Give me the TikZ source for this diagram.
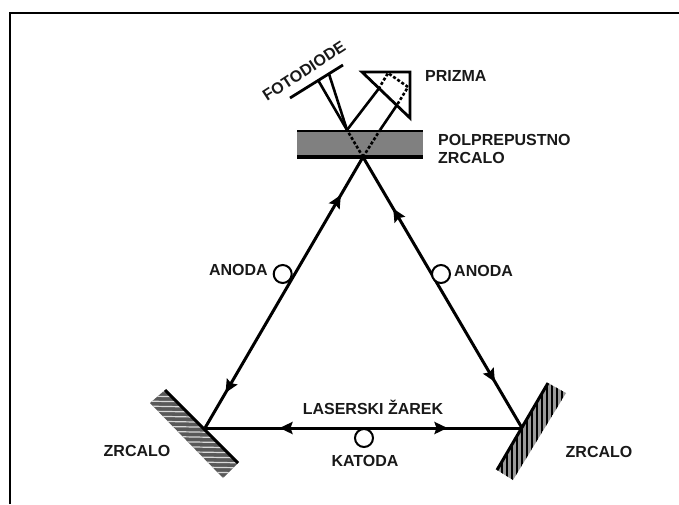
\documentclass[tikz,border=0pt]{standalone}
\usepackage{fontspec}
\setmainfont{Liberation Sans}
\usetikzlibrary{arrows.meta,decorations.markings}
\tikzset{
  >={Stealth[length=13pt,width=12pt,inset=2pt]},
  beam/.style={line width=3pt,line cap=butt},
  thin beam/.style={line width=2.6pt},
  dotbeam/.style={line width=2.6pt,dash pattern=on 3pt off 2pt},
  lab/.style={font=\bfseries\fontsize{16}{18}\selectfont,inner sep=0pt,text=black!90},
  ring/.style={circle,draw,line width=2pt,fill=white,minimum size=18pt,inner sep=0pt},
  mirrorface/.style={line width=3pt},
}
\begin{document}
\begin{tikzpicture}[x=1pt,y=-1pt]
\useasboundingbox (0,0) rectangle (679,504);
% frame
\coordinate (fa) at (10,504); \coordinate (fb) at (10,13); \coordinate (fc) at (679,13);
\draw[line width=2.8pt] (fa) -- (fb) -- (fc);
% key points
\coordinate (T) at (363,157);
\coordinate (L) at (205,428);
\coordinate (R) at (522,428);
\coordinate (SL) at (347,130);
\coordinate (SR) at (380,130);
% beam splitter
\fill[black!50] (297,131) rectangle (423,157);
\draw[line width=2.6pt] (297,131) -- (423,131);
\draw[line width=4pt] (297,157) -- (423,157);
% left mirror
\begin{scope}
\clip (165,390) -- (238,463) -- (223,478) -- (150,403) -- cycle;
\fill[black!65] (140,380) rectangle (250,490);
\foreach \y in {392,397,...,482} \draw[white!85!black,line width=1.2pt] (140,\y-1) -- (250,\y+1);
\end{scope}
\coordinate (ml1) at (165,390); \coordinate (ml2) at (238,463);
\draw[mirrorface] (ml1) -- (ml2);
% right mirror
\begin{scope}
\clip (548,383) -- (566,393) -- (513,480) -- (497,470) -- cycle;
\fill[black!40] (490,375) rectangle (570,485);
\foreach \x in {497,502,...,567} \draw[black,line width=2.6pt] (\x,375) -- (\x,485);
\end{scope}
\coordinate (mr1) at (548,383); \coordinate (mr2) at (497,470);
\draw[mirrorface] (mr1) -- (mr2);
% main beams
\draw[beam,postaction={decorate},decoration={markings,
   mark=at position 0.86 with {\arrow{>}},
   mark=at position 0.13 with {\arrowreversed{>}}}] (L) -- (T);
\draw[beam,postaction={decorate},decoration={markings,
   mark=at position 0.81 with {\arrow{>}},
   mark=at position 0.17 with {\arrowreversed{>}}}] (R) -- (T);
\draw[beam,postaction={decorate},decoration={markings,
   mark=at position 0.765 with {\arrow{>}},
   mark=at position 0.235 with {\arrowreversed{>}}}] (L) -- (R);
% inside the splitter
\draw[dotbeam] (T) -- (SL);
\draw[dotbeam] (T) -- (SR);
% photodiode
\coordinate (da) at (290,98); \coordinate (db) at (343,65);
\coordinate (d1) at (318,80); \coordinate (d2) at (329,74);
\draw[line width=2.8pt] (da) -- (db);
\draw[thin beam] (SL) -- (d1);
\draw[thin beam] (SL) -- (d2);
% prism
\coordinate (p1) at (362,72); \coordinate (p2) at (410,72); \coordinate (p3) at (410,118);
\draw[line width=2.8pt,line join=miter] (p1) -- (p2) -- (p3) -- cycle;
\coordinate (h1) at (378.5,89); \coordinate (h2) at (397,105);
\coordinate (q1) at (388,73); \coordinate (q2) at (408,87);
\draw[thin beam] (SL) -- (h1);
\draw[thin beam] (SR) -- (h2);
\draw[dotbeam] (h1) -- (q1) -- (q2) -- (h2);
% rings
\node[ring] (a1) at (282.7,274) {};
\node[ring] (a2) at (441,274) {};
\node[ring] (k) at (364,438) {};
% labels
\node[lab,rotate=33] (fd) at (304,71) {FOTODIODE};
\node[lab,anchor=west] (pr) at (425,76) {PRIZMA};
\node[lab,anchor=west] (pp) at (438,140) {POLPREPUSTNO};
\node[lab,anchor=west] (pz) at (438,158) {ZRCALO};
\node[lab,anchor=east] (an1) at (268,270) {ANODA};
\node[lab,anchor=west] (an2) at (454,271) {ANODA};
\node[lab] (ls) at (373,407) {LASERSKI ŽAREK};
\node[lab] (ka) at (365,461) {KATODA};
\node[lab] (zl) at (137,451) {ZRCALO};
\node[lab] (zr) at (599,452) {ZRCALO};
\end{tikzpicture}
\end{document}
